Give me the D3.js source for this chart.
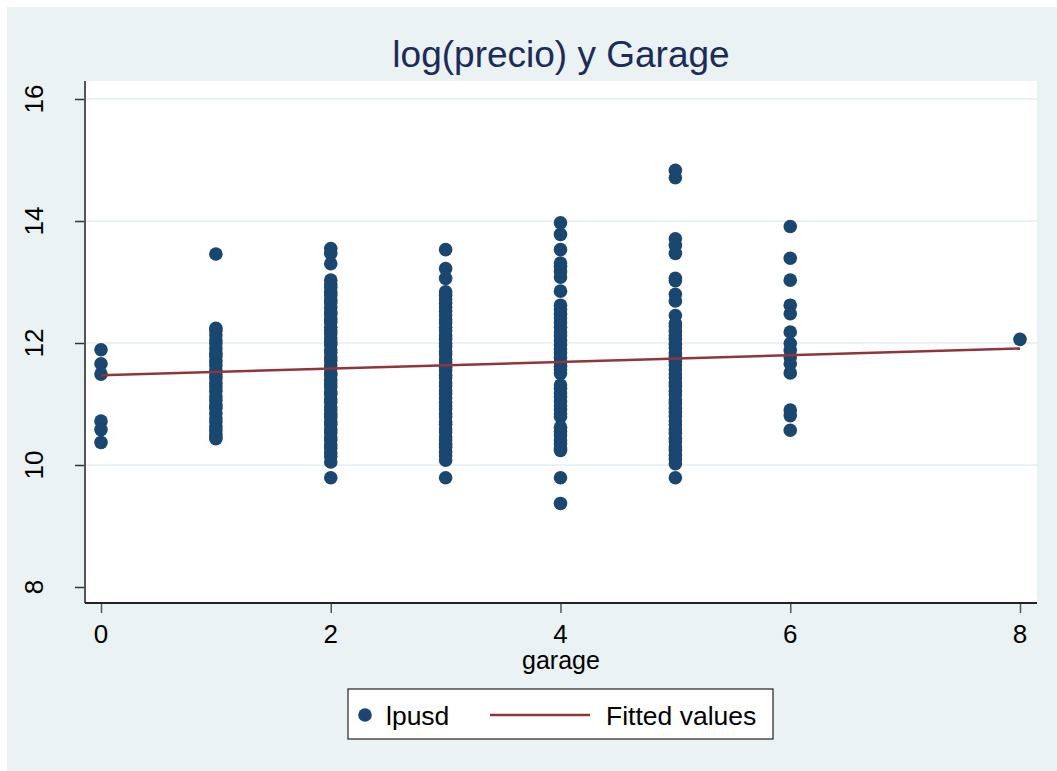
<!DOCTYPE html>
<html>
<head>
<meta charset="utf-8">
<script src="https://cdn.jsdelivr.net/npm/d3@7"></script>
<style>
  html, body { margin: 0; padding: 0; background: #fff; }
  svg { display: block; font-family: "Liberation Sans", Arial, Helvetica, sans-serif; }
</style>
</head>
<body>
<svg id="chart"></svg>
<script>
// garage values that have observations
const garageLevels = [0, 1, 2, 3, 4, 5, 6, 8];

// lpusd (log price) read per garage column
const lpusd0 = [11.89, 11.66, 11.49, 10.72, 10.58, 10.37];
const lpusd1 = [13.46, 12.24, 12.2, 12.13, 12.05, 11.99, 11.91, 11.83, 11.78, 11.7, 11.63, 11.55, 11.48, 11.42,
    11.34, 11.28, 11.21, 11.13, 11.06, 10.98, 10.93, 10.85, 10.77, 10.71, 10.63, 10.57, 10.5, 10.46, 10.43];
const lpusd2 = [13.55, 13.47, 13.3, 13.03, 12.96, 12.91, 12.83, 12.78, 12.7, 12.66, 12.58, 12.51, 12.47, 12.39,
    12.34, 12.26, 12.2, 12.15, 12.08, 12.01, 11.97, 11.89, 11.84, 11.76, 11.71, 11.64, 11.59, 11.51, 11.47, 11.39,
    11.33, 11.28, 11.2, 11.16, 11.08, 11.03, 10.95, 10.9, 10.83, 10.78, 10.7, 10.66, 10.58, 10.53, 10.45, 10.41,
    10.33, 10.28, 10.2, 10.14, 10.05, 9.79];
const lpusd3 = [13.53, 13.22, 13.06, 12.84, 12.78, 12.72, 12.65, 12.59, 12.52, 12.46, 12.38, 12.33, 12.26, 12.2,
    12.12, 12.06, 11.99, 11.94, 11.86, 11.81, 11.73, 11.68, 11.6, 11.55, 11.47, 11.43, 11.35, 11.3, 11.22, 11.17,
    11.1, 11.03, 10.97, 10.92, 10.84, 10.79, 10.71, 10.67, 10.59, 10.54, 10.46, 10.41, 10.34, 10.29, 10.21, 10.15,
    10.08, 9.79];
const lpusd4 = [13.97, 13.78, 13.53, 13.31, 13.26, 13.17, 13.08, 12.85, 12.62, 12.55, 12.47, 12.41, 12.33, 12.26,
    12.18, 12.12, 12.04, 11.97, 11.9, 11.84, 11.76, 11.69, 11.62, 11.56, 11.5, 11.31, 11.26, 11.18, 11.12, 11.04,
    10.97, 10.91, 10.84, 10.79, 10.62, 10.55, 10.49, 10.41, 10.35, 10.28, 10.24, 9.79, 9.37];
const lpusd5 = [14.83, 14.71, 13.71, 13.6, 13.47, 13.06, 13.02, 12.8, 12.69, 12.45, 12.32, 12.27, 12.19, 12.12,
    12.06, 11.98, 11.92, 11.84, 11.78, 11.7, 11.64, 11.56, 11.49, 11.43, 11.35, 11.29, 11.21, 11.15, 11.07, 11.01,
    10.93, 10.87, 10.8, 10.72, 10.66, 10.58, 10.52, 10.44, 10.38, 10.3, 10.24, 10.16, 10.1, 10.02, 9.79];
const lpusd6 = [13.91, 13.39, 13.03, 12.62, 12.48, 12.18, 11.99, 11.88, 11.77, 11.66, 11.51, 10.9, 10.81, 10.57];
const lpusd8 = [12.06];

// fitted values at the ends of the garage range
const fittedGarage = [0, 8];
const fittedValues = [11.47, 11.91];

const xTicks = [0, 2, 4, 6, 8];
const yTicks = [8, 10, 12, 14, 16];
const yGrid = [10, 12, 14, 16];

const titleText = 'log(precio) y Garage';
const xTitleText = 'garage';
const legendLabels = ['lpusd', 'Fitted values'];

class StataScatter {
    constructor(svgId) {
        this.svg = d3.select(`#${svgId}`);
        this.width = 1057;
        this.height = 771;
        this.colors = {
            background: '#eaf2f3',
            grid: '#eaf2f3',
            marker: '#1a476f',
            fit: '#90353b',
            title: '#1c2b57',
            axis: '#555555'
        };
        this.plot = { left: 85, right: 1037, top: 81, bottom: 603 };
        this.render();
    }

    points() {
        const columns = [lpusd0, lpusd1, lpusd2, lpusd3, lpusd4, lpusd5, lpusd6, lpusd8];
        const out = [];
        columns.forEach((vals, i) => {
            vals.forEach(v => out.push({ garage: garageLevels[i], lpusd: v }));
        });
        return out;
    }

    render() {
        const svg = this.svg.attr('width', this.width).attr('height', this.height);
        const p = this.plot;

        // outer graph region
        svg.append('rect')
            .attr('x', 7).attr('y', 7)
            .attr('width', this.width - 7).attr('height', this.height - 7)
            .attr('fill', this.colors.background);

        // plot region
        svg.append('rect')
            .attr('x', p.left).attr('y', p.top)
            .attr('width', p.right - p.left).attr('height', p.bottom - p.top)
            .attr('fill', '#fff');

        const x = d3.scaleLinear().domain([0, 8]).range([101, 1020]);
        const y = d3.scaleLinear().domain([8, 16]).range([587, 99]);

        // gridlines
        svg.append('g')
            .selectAll('line')
            .data(yGrid)
            .enter().append('line')
            .attr('x1', p.left + 1).attr('x2', p.right)
            .attr('y1', d => y(d)).attr('y2', d => y(d))
            .attr('stroke', this.colors.grid)
            .attr('stroke-width', 2);

        // y axis
        const yAxis = svg.append('g')
            .attr('transform', `translate(${p.left},0)`)
            .call(d3.axisLeft(y).tickValues(yTicks).tickSize(10).tickFormat(''));
        yAxis.select('.domain').remove();
        yAxis.selectAll('.tick line').attr('stroke', '#333').attr('stroke-width', 1.5);

        svg.append('g')
            .selectAll('text')
            .data(yTicks)
            .enter().append('text')
            .attr('transform', d => `translate(43,${y(d)}) rotate(-90)`)
            .attr('text-anchor', 'middle')
            .attr('font-size', 26)
            .attr('fill', '#000')
            .text(d => d);

        svg.append('line')
            .attr('x1', p.left).attr('x2', p.left)
            .attr('y1', p.top).attr('y2', p.bottom)
            .attr('stroke', this.colors.axis)
            .attr('stroke-width', 2);

        // x axis
        const xAxis = svg.append('g')
            .attr('transform', `translate(0,${p.bottom})`)
            .call(d3.axisBottom(x).tickValues(xTicks).tickSize(10).tickFormat(''));
        xAxis.select('.domain').remove();
        xAxis.selectAll('.tick line').attr('stroke', '#555').attr('stroke-width', 1.5);

        svg.append('g')
            .selectAll('text')
            .data(xTicks)
            .enter().append('text')
            .attr('x', d => x(d))
            .attr('y', 643)
            .attr('text-anchor', 'middle')
            .attr('font-size', 26)
            .attr('fill', '#000')
            .text(d => d);

        svg.append('line')
            .attr('x1', p.left).attr('x2', p.right)
            .attr('y1', p.bottom).attr('y2', p.bottom)
            .attr('stroke', '#222')
            .attr('stroke-width', 2);

        // markers
        svg.append('g')
            .selectAll('circle')
            .data(this.points())
            .enter().append('circle')
            .attr('cx', d => x(d.garage))
            .attr('cy', d => y(d.lpusd))
            .attr('r', 6.8)
            .attr('fill', this.colors.marker);

        // fitted line
        const line = d3.line().x(d => x(d[0])).y(d => y(d[1]));
        svg.append('path')
            .datum(d3.zip(fittedGarage, fittedValues))
            .attr('d', line)
            .attr('fill', 'none')
            .attr('stroke', this.colors.fit)
            .attr('stroke-width', 2.5);

        // titles
        svg.append('text')
            .attr('x', (p.left + p.right) / 2)
            .attr('y', 67)
            .attr('text-anchor', 'middle')
            .attr('font-size', 37)
            .attr('fill', this.colors.title)
            .text(titleText);

        svg.append('text')
            .attr('x', (p.left + p.right) / 2)
            .attr('y', 669)
            .attr('text-anchor', 'middle')
            .attr('font-size', 25)
            .attr('fill', '#000')
            .text(xTitleText);

        this.drawLegend(svg);
    }

    drawLegend(svg) {
        const g = svg.append('g');
        const midY = 715;

        g.append('rect')
            .attr('x', 348).attr('y', 689)
            .attr('width', 425).attr('height', 50)
            .attr('fill', '#fff')
            .attr('stroke', '#222')
            .attr('stroke-width', 1.2);

        g.append('circle')
            .attr('cx', 365).attr('cy', midY)
            .attr('r', 6.8)
            .attr('fill', this.colors.marker);

        g.append('text')
            .attr('x', 386).attr('y', midY + 10)
            .attr('font-size', 26.5)
            .text(legendLabels[0]);

        g.append('line')
            .attr('x1', 490).attr('x2', 590)
            .attr('y1', midY).attr('y2', midY)
            .attr('stroke', this.colors.fit)
            .attr('stroke-width', 2.5);

        g.append('text')
            .attr('x', 606).attr('y', midY + 10)
            .attr('font-size', 26.5)
            .text(legendLabels[1]);
    }
}

document.addEventListener('DOMContentLoaded', () => {
    new StataScatter('chart');
});
</script>
</body>
</html>
